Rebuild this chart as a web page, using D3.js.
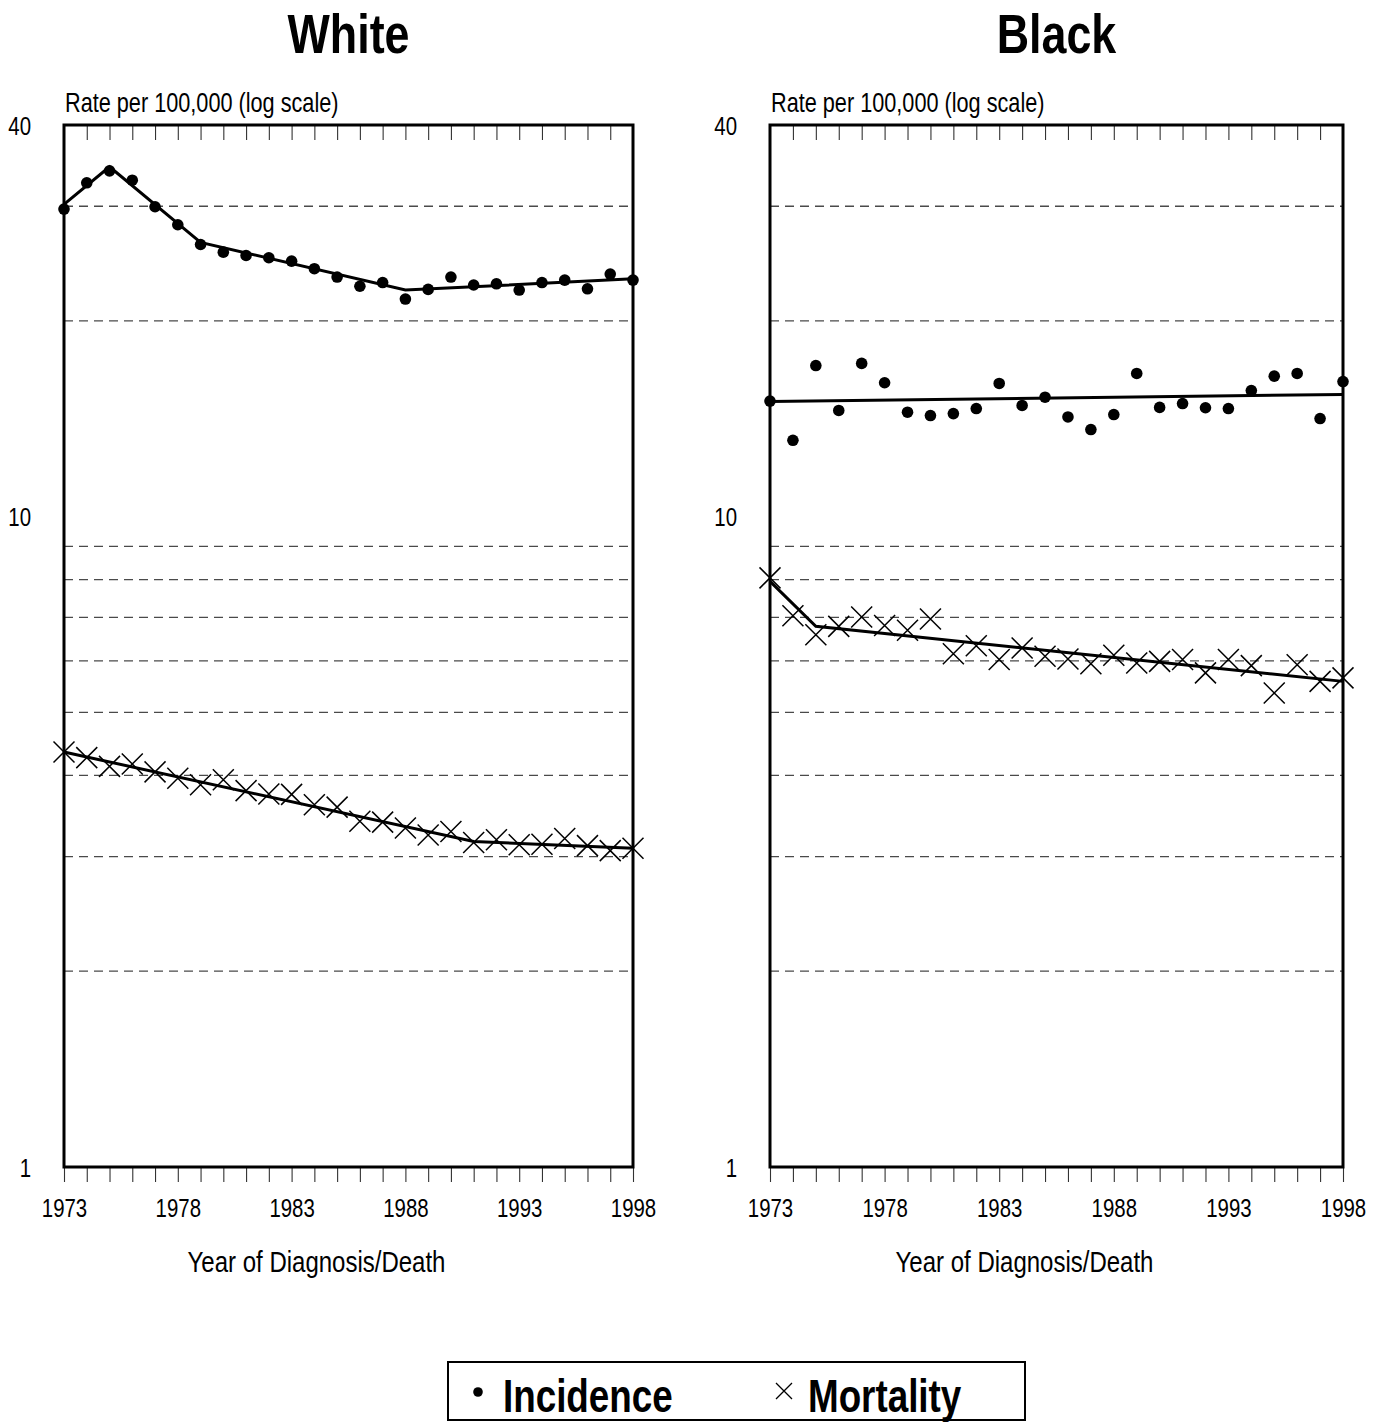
<!DOCTYPE html>
<html>
<head>
<meta charset="utf-8">
<script src="https://cdn.jsdelivr.net/npm/d3@7"></script>
<style>
  html, body { margin: 0; padding: 0; background: #fff; }
  svg { display: block; }
  text { font-family: "Liberation Sans", Arial, sans-serif; fill: #000; }
</style>
</head>
<body>
<svg id="chart" width="1380" height="1422"></svg>
<script>
// ---- data ----
const years = d3.range(1973, 1999);
const yearLabels = [1973, 1978, 1983, 1988, 1993, 1998];
const yTickLabels = [1, 10, 40];
const gridValues = [2, 3, 4, 5, 6, 7, 8, 9, 20, 30];

const whiteIncidence = [29.7, 32.6, 34.0, 32.9, 29.95, 28.1, 26.2, 25.5, 25.2, 25.0, 24.7, 24.05, 23.35, 22.6, 22.9, 21.6, 22.35, 23.35, 22.7, 22.8, 22.3, 22.9, 23.1, 22.4, 23.6, 23.1];
const whiteMortality = [4.345, 4.26, 4.13, 4.165, 4.05, 3.96, 3.87, 3.94, 3.79, 3.745, 3.74, 3.605, 3.575, 3.40, 3.39, 3.32, 3.24, 3.28, 3.155, 3.185, 3.13, 3.135, 3.20, 3.12, 3.065, 3.09];
const whiteIncTrendYears = [1973, 1975, 1979, 1988, 1998];
const whiteIncTrend = [30.2, 34.5, 26.4, 22.3, 23.2];
const whiteMortTrendYears = [1973, 1991, 1998];
const whiteMortTrend = [4.345, 3.165, 3.09];

const blackIncidence = [15.05, 13.1, 17.07, 14.56, 17.2, 16.06, 14.47, 14.3, 14.4, 14.66, 16.02, 14.82, 15.26, 14.23, 13.61, 14.35, 16.6, 14.72, 14.92, 14.7, 14.66, 15.62, 16.44, 16.6, 14.15, 16.13];
const blackMortality = [8.05, 7.04, 6.58, 6.78, 7.01, 6.80, 6.685, 6.96, 6.155, 6.33, 6.03, 6.28, 6.10, 6.04, 5.94, 6.12, 5.955, 5.99, 6.03, 5.75, 6.03, 5.90, 5.355, 5.92, 5.58, 5.65];
const blackIncTrendYears = [1973, 1998];
const blackIncTrend = [15.03, 15.41];
const blackMortTrendYears = [1973, 1975, 1998];
const blackMortTrend = [7.95, 6.78, 5.58];

const panels = [
  { title: "White", left: 64, right: 633,
    inc: whiteIncidence, mort: whiteMortality,
    incTY: whiteIncTrendYears, incT: whiteIncTrend,
    mortTY: whiteMortTrendYears, mortT: whiteMortTrend },
  { title: "Black", left: 770, right: 1343,
    inc: blackIncidence, mort: blackMortality,
    incTY: blackIncTrendYears, incT: blackIncTrend,
    mortTY: blackMortTrendYears, mortT: blackMortTrend }
];

// ---- drawing ----
const NARROW = 0.8;   // emulate a narrow (condensed) face
const svg = d3.select("#chart");
const plotTop = 125, plotBottom = 1167;

function ntext(parent, x, y, str, size, anchor, bold) {
  return parent.append("text")
    .attr("transform", `translate(${x},${y}) scale(${NARROW},1)`)
    .attr("text-anchor", anchor || "start")
    .style("font-size", size + "px")
    .style("font-weight", bold ? "bold" : "normal")
    .text(str);
}

panels.forEach(p => {
  const g = svg.append("g");
  const x = d3.scaleLinear().domain([1973, 1998]).range([p.left, p.right]);
  const y = d3.scaleLog().domain([1, 40]).range([plotBottom, plotTop]);
  const cx = (p.left + p.right) / 2;

  ntext(g, cx, 53, p.title, 56, "middle", true);
  ntext(g, p.left + 1, 112, "Rate per 100,000 (log scale)", 27.1, "start", false);

  g.append("g").selectAll("line").data(gridValues).join("line")
    .attr("x1", p.left).attr("x2", p.right)
    .attr("y1", d => y(d)).attr("y2", d => y(d))
    .attr("stroke", "#4a4a4a").attr("stroke-width", 1.3).attr("stroke-dasharray", "9,6");

  const yAxis = d3.axisLeft(y).tickValues(yTickLabels).tickSize(0).tickPadding(0)
    .tickFormat(d3.format("d"));
  const ya = g.append("g").attr("transform", `translate(${p.left - 33},0)`).call(yAxis);
  ya.select(".domain").remove();
  ya.attr("font-family", null).attr("font-size", null);
  ya.selectAll("text").style("font-size", "25.5px").attr("x", 0).attr("dy", "0.36em")
    .attr("transform", `scale(${NARROW},1)`);

  const xAxisB = d3.axisBottom(x).tickValues(years).tickSize(15).tickPadding(17)
    .tickFormat(d => yearLabels.includes(d) ? d : "");
  const xb = g.append("g").attr("transform", `translate(0,${plotBottom})`).call(xAxisB);
  xb.select(".domain").remove();
  xb.attr("font-family", null).attr("font-size", null);
  xb.selectAll("line").attr("stroke", "#333").attr("stroke-width", 1.1);
  xb.selectAll("text").style("font-size", "25.5px").attr("transform", `scale(${NARROW},1)`);

  const xAxisT = d3.axisBottom(x).tickValues(years.slice(1, -1)).tickSize(15).tickFormat("");
  const xt = g.append("g").attr("transform", `translate(0,${plotTop})`).call(xAxisT);
  xt.select(".domain").remove();
  xt.selectAll("line").attr("stroke", "#333").attr("stroke-width", 1.1);

  ntext(g, cx - 32, 1272, "Year of Diagnosis/Death", 30, "middle", false);

  g.append("rect").attr("x", p.left).attr("y", plotTop)
    .attr("width", p.right - p.left).attr("height", plotBottom - plotTop)
    .attr("fill", "none").attr("stroke", "#000").attr("stroke-width", 3);

  const line = d3.line().x(d => x(d[0])).y(d => y(d[1]));
  g.append("path").datum(p.incTY.map((yr, i) => [yr, p.incT[i]]))
    .attr("d", line).attr("fill", "none").attr("stroke", "#000").attr("stroke-width", 3);
  g.append("path").datum(p.mortTY.map((yr, i) => [yr, p.mortT[i]]))
    .attr("d", line).attr("fill", "none").attr("stroke", "#000").attr("stroke-width", 3);

  g.append("g").selectAll("circle").data(p.inc).join("circle")
    .attr("cx", (d, i) => x(years[i])).attr("cy", d => y(d)).attr("r", 5.8).attr("fill", "#000");

  const s = 10.5;
  g.append("g").selectAll("path").data(p.mort).join("path")
    .attr("transform", (d, i) => `translate(${x(years[i])},${y(d)})`)
    .attr("d", `M${-s},${-s}L${s},${s}M${-s},${s}L${s},${-s}`)
    .attr("stroke", "#000").attr("stroke-width", 1.5).attr("fill", "none");
});

const lg = svg.append("g");
lg.append("rect").attr("x", 448).attr("y", 1362).attr("width", 577).attr("height", 58)
  .attr("fill", "none").attr("stroke", "#000").attr("stroke-width", 2);
lg.append("circle").attr("cx", 478).attr("cy", 1392).attr("r", 4.8).attr("fill", "#000");
ntext(lg, 503, 1412, "Incidence", 46, "start", true);
lg.append("path").attr("transform", "translate(784,1391)")
  .attr("d", "M-8,-8L8,8M-8,8L8,-8").attr("stroke", "#000").attr("stroke-width", 1.3);
ntext(lg, 808, 1412, "Mortality", 46, "start", true);
</script>
</body>
</html>
